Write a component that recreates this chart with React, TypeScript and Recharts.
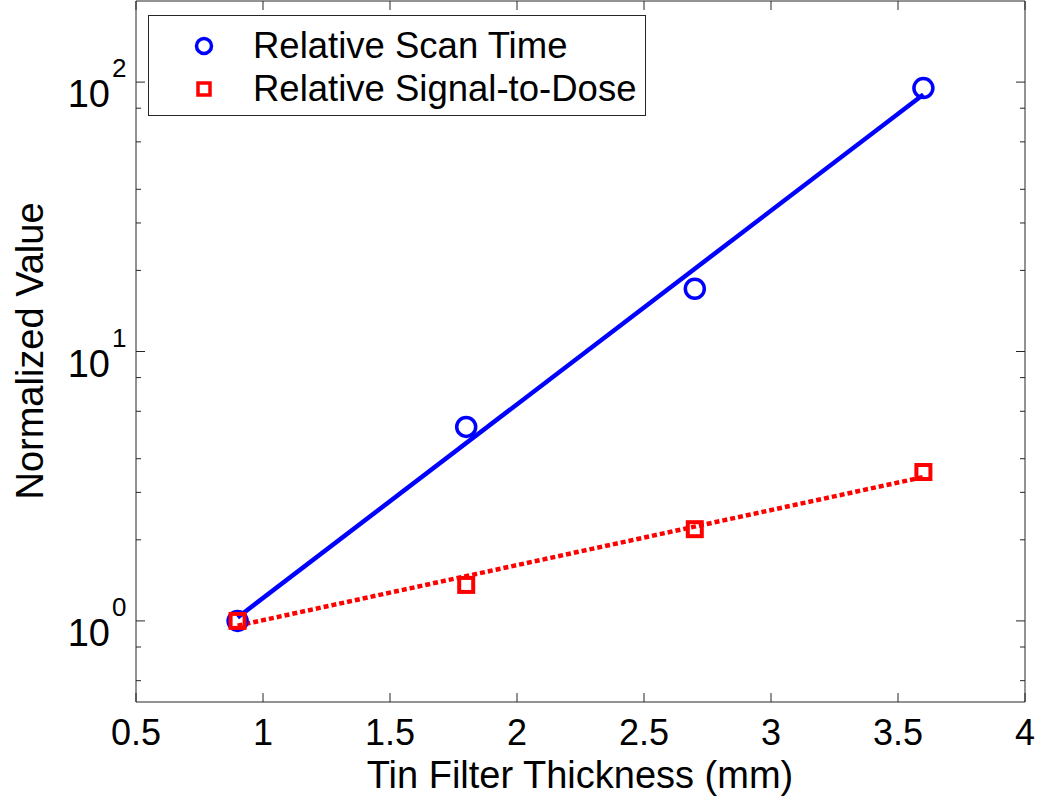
import { ComposedChart, Line, Scatter, XAxis, YAxis, Legend, Label } from 'recharts';

const thickness = [0.9, 1.8, 2.7, 3.6];
const scanTime = [1, 5.25, 17.1, 95];
const signalToDose = [1, 1.36, 2.19, 3.57];

// fitted lines, read at the two ends
const fitThickness = [0.9, 3.6];
const scanTimeFit = [1.03, 90];
const signalToDoseFit = [0.96, 3.42];

const xTicks = [0.5, 1, 1.5, 2, 2.5, 3, 3.5, 4];
const yTicks = [0.6, 0.7, 0.8, 0.9, 1, 2, 3, 4, 5, 6, 7, 8, 9, 10, 20, 30, 40, 50, 60, 70, 80, 90, 100];
const yMajor = [1, 10, 100];

const FONT = '"Liberation Sans", Arial, sans-serif';
const AXIS = '#262626';
const BLUE = '#0000ff';
const RED = '#ff0000';

const scanPoints = thickness.map((x, i) => ({ x, y: scanTime[i] }));
const dosePoints = thickness.map((x, i) => ({ x, y: signalToDose[i] }));
const scanFitLine = fitThickness.map((x, i) => ({ x, y: scanTimeFit[i] }));
const doseFitLine = fitThickness.map((x, i) => ({ x, y: signalToDoseFit[i] }));

const BottomTick = ({ x, y, payload }: any) => (
  <g>
    <line x1={x} x2={x} y1={y} y2={y - 9} stroke={AXIS} />
    <text x={x} y={y + 43} textAnchor="middle" fontSize={36} fontFamily={FONT} fill="#000">
      {payload.value}
    </text>
  </g>
);

const TopTick = ({ x, y }: any) => <line x1={x} x2={x} y1={y} y2={y + 9} stroke={AXIS} />;

const LeftTick = ({ x, y, payload }: any) => {
  const major = yMajor.includes(payload.value);
  return (
    <g>
      <line x1={x} x2={x + (major ? 9 : 5)} y1={y} y2={y} stroke={AXIS} />
      {major && (
        <>
          <text x={x - 26} y={y + 25} textAnchor="end" fontSize={38} fontFamily={FONT} fill="#000">
            10
          </text>
          <text x={x - 24} y={y - 5} textAnchor="start" fontSize={26} fontFamily={FONT} fill="#000">
            {Math.round(Math.log10(payload.value))}
          </text>
        </>
      )}
    </g>
  );
};

const RightTick = ({ x, y, payload }: any) => {
  const major = yMajor.includes(payload.value);
  return <line x1={x} x2={x - (major ? 9 : 5)} y1={y} y2={y} stroke={AXIS} />;
};

const CircleMark = (p: any) => (
  <circle cx={p.cx} cy={p.cy} r={9.5} fill="none" stroke={BLUE} strokeWidth={3.5} />
);
const SquareMark = (p: any) => (
  <rect x={p.cx - 7} y={p.cy - 7} width={14} height={14} fill="none" stroke={RED} strokeWidth={4} />
);

const LegendBox = () => (
  <div
    style={{
      position: 'relative',
      width: 498,
      height: 101,
      boxSizing: 'border-box',
      border: `1px solid ${AXIS}`,
      background: '#fff',
      fontFamily: FONT,
      fontSize: 36.5,
      color: '#000',
    }}
  >
    <svg width={30} height={30} style={{ position: 'absolute', left: 40, top: 15 }}>
      <circle cx={15} cy={15} r={7.5} fill="none" stroke={BLUE} strokeWidth={3.5} />
    </svg>
    <div style={{ position: 'absolute', left: 104, top: 9, lineHeight: '42px', whiteSpace: 'nowrap' }}>
      Relative Scan Time
    </div>
    <svg width={30} height={30} style={{ position: 'absolute', left: 40, top: 58 }}>
      <rect x={9} y={9} width={12} height={12} fill="none" stroke={RED} strokeWidth={3.5} />
    </svg>
    <div style={{ position: 'absolute', left: 104, top: 52, lineHeight: '42px', whiteSpace: 'nowrap' }}>
      Relative Signal-to-Dose
    </div>
  </div>
);

export default function App() {
  return (
    <div style={{ position: 'absolute', left: 0, top: 0, background: '#fff' }}>
      <ComposedChart width={1050} height={807} margin={{ top: 0, right: 24, bottom: 0, left: 0 }}>
        <XAxis
          dataKey="x"
          type="number"
          domain={[0.5, 4]}
          ticks={xTicks}
          height={105}
          stroke={AXIS}
          tickLine={false}
          tickSize={0}
          tickMargin={0}
          tick={BottomTick}
          allowDataOverflow
        >
          <Label
            content={() => (
              <text x={580} y={788} textAnchor="middle" fontSize={38} fontFamily={FONT} fill="#000">
                Tin Filter Thickness (mm)
              </text>
            )}
          />
        </XAxis>
        <XAxis
          xAxisId="top"
          orientation="top"
          dataKey="x"
          type="number"
          domain={[0.5, 4]}
          ticks={xTicks}
          height={1}
          stroke={AXIS}
          tickLine={false}
          tickSize={0}
          tickMargin={0}
          tick={TopTick}
          allowDataOverflow
        />
        <YAxis
          dataKey="y"
          scale="log"
          type="number"
          domain={[0.5, 200]}
          ticks={yTicks}
          width={136}
          stroke={AXIS}
          tickLine={false}
          tickSize={0}
          tickMargin={0}
          tick={LeftTick}
          allowDataOverflow
        >
          <Label
            content={() => (
              <text
                x={43}
                y={351}
                transform="rotate(-90 43 351)"
                textAnchor="middle"
                fontSize={38}
                fontFamily={FONT}
                fill="#000"
              >
                Normalized Value
              </text>
            )}
          />
        </YAxis>
        <YAxis
          yAxisId="right"
          orientation="right"
          dataKey="y"
          scale="log"
          type="number"
          domain={[0.5, 200]}
          ticks={yTicks}
          width={1}
          stroke={AXIS}
          tickLine={false}
          tickSize={0}
          tickMargin={0}
          tick={RightTick}
          allowDataOverflow
        />
        <Legend
          layout="vertical"
          align="center"
          verticalAlign="middle"
          content={LegendBox}
          wrapperStyle={{ left: 148, top: 15, width: 498, height: 101 }}
        />
        <Scatter data={scanPoints} dataKey="y" shape={CircleMark} isAnimationActive={false} />
        <Scatter data={dosePoints} dataKey="y" shape={SquareMark} isAnimationActive={false} />
        <Line
          data={scanFitLine}
          dataKey="y"
          stroke={BLUE}
          strokeWidth={4.5}
          dot={false}
          activeDot={false}
          isAnimationActive={false}
        />
        <Line
          data={doseFitLine}
          dataKey="y"
          stroke={RED}
          strokeWidth={4.5}
          strokeDasharray="5 3"
          dot={false}
          activeDot={false}
          isAnimationActive={false}
        />
      </ComposedChart>
    </div>
  );
}
